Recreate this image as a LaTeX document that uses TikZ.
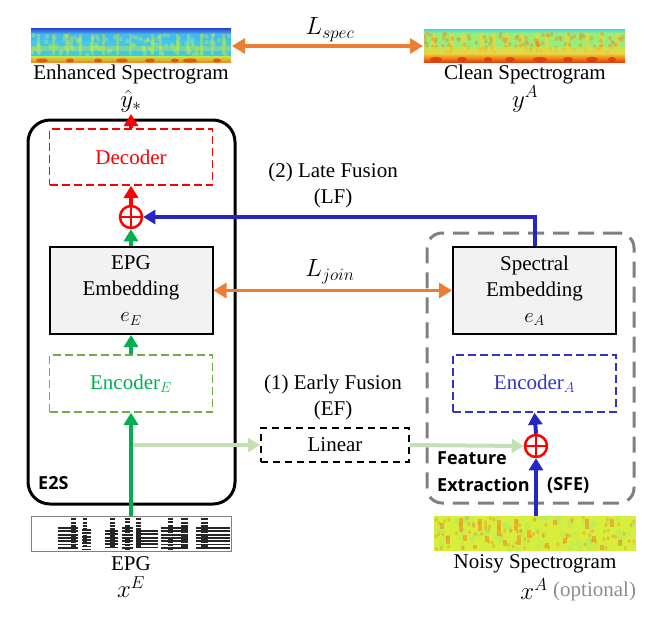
\documentclass[tikz,border=0pt]{standalone}
\usepackage{fontspec}
\setmainfont{Liberation Serif}
\newfontfamily\bsans{Open Sans}
\usetikzlibrary{arrows.meta}
\definecolor{cor}{HTML}{ED7D31}
\definecolor{cbl}{HTML}{2626C4}
\definecolor{cenca}{HTML}{3333CC}
\definecolor{cgr}{HTML}{00B050}
\definecolor{cenceg}{HTML}{70AD47}
\definecolor{clg}{HTML}{C5E0B4}
\definecolor{cgray}{HTML}{7F7F7F}
\definecolor{cemb}{HTML}{F2F2F2}
\definecolor{sdb}{HTML}{2A3CC8}
\definecolor{slb}{HTML}{44BAF2}
\definecolor{scy}{HTML}{40D4E4}
\definecolor{syg}{HTML}{BEEA50}
\definecolor{sor}{HTML}{F08C1E}
\definecolor{srd}{HTML}{E8400C}
\definecolor{sgr}{HTML}{9AEC78}
\definecolor{syl}{HTML}{F4D634}
\definecolor{sny}{HTML}{D8EE3C}
\tikzset{
  txt/.style={font=\fontsize{21}{24}\selectfont, inner sep=0pt},
  mth/.style={font=\fontsize{23}{24}\selectfont, inner sep=0pt},
  bold/.style={font=\bsans\bfseries\fontsize{18}{20}\selectfont, inner sep=0pt},
  emb/.style={draw=black, line width=2pt, fill=cemb, minimum width=163pt, minimum height=87pt, align=center, font=\fontsize{21}{26}\selectfont, inner sep=0pt},
  dbox/.style={line width=1.5pt, dash pattern=on 8pt off 4pt, minimum width=163pt, minimum height=56pt, font=\fontsize{21}{24}\selectfont, inner sep=0pt},
  plus/.style={circle, draw=red, line width=2.5pt, minimum size=22pt, inner sep=0pt,
    path picture={\draw[red, line width=2.5pt] (path picture bounding box.north) -- (path picture bounding box.south) (path picture bounding box.west) -- (path picture bounding box.east);}},
  tip/.style={-{Triangle[length=12pt,width=14pt]}},
  oarr/.style={draw=cor, line width=3.5pt, {Triangle[length=13pt,width=15pt]}-{Triangle[length=13pt,width=15pt]}},
  barr/.style={draw=cbl, line width=4pt, tip},
  garr/.style={draw=cgr, line width=4pt, tip},
  rarr/.style={draw=red, line width=4pt, tip},
  lgarr/.style={draw=clg, line width=4pt, tip},
}
\begin{document}
\begin{tikzpicture}[x=1pt,y=-1pt]
\useasboundingbox (0,0) rectangle (663,619);
\pgfmathsetseed{11}
% ---------- Enhanced spectrogram ----------
\begin{scope}
\clip (31,28) rectangle (231,62);
\fill[slb] (31,28) rectangle (231,62);
\shade[top color=sdb, bottom color=slb] (31,28) rectangle (231,34);
\fill[scy, opacity=.5] (31,40) rectangle (231,56);
\foreach \x in {37,52,66,79,91,102,116,129,151,159,176,187,200,211,222}
  \fill[syg, opacity=.45] (\x,34) rectangle ++(2.5,21);
\foreach \i in {1,...,110}{
  \pgfmathsetmacro\xx{31+200*rnd}\pgfmathsetmacro\yy{35+20*rnd}
  \fill[syg, opacity=.4] (\xx,\yy) ellipse (2pt and 2.5pt);}
\fill[syg, opacity=.45] (31,46) rectangle (231,51);
\shade[top color=syg, bottom color=sor] (31,56) rectangle (231,62);
\foreach \x/\w in {42/6,70/4,98/4,122/6,150/5,175/4,190/7,217/4}
  \fill[srd, opacity=.8] (\x,60.5) ellipse ({\w pt} and 2pt);
\end{scope}
% ---------- Clean spectrogram ----------
\begin{scope}
\clip (424,29) rectangle (625,62);
\fill[sgr] (424,29) rectangle (625,62);
\shade[top color=scy, bottom color=sgr] (424,29) rectangle (625,33);
\foreach \x in {431,450,462,480,492,505,520,535,545,565,585,600,615}
  \fill[syl, opacity=.6] (\x,33) rectangle ++(4,22);
\foreach \i in {1,...,120}{
  \pgfmathsetmacro\xx{424+201*rnd}\pgfmathsetmacro\yy{34+20*rnd}
  \fill[sor, opacity=.45] (\xx,\yy) ellipse (1.8pt and 2.2pt);}
\fill[syl, opacity=.6] (424,47) rectangle (625,54);
\shade[top color=syl, bottom color=srd] (424,53) rectangle (625,62);
\foreach \x/\w in {436/6,462/5,488/4,510/5,540/7,568/5,592/6,612/4}
  \fill[srd!90!black, opacity=.8] (\x,59.5) ellipse ({\w pt} and 2.5pt);
\end{scope}
% ---------- EPG image ----------
\fill[white] (31,516) rectangle (231,551);
\begin{scope}
\clip (31,516) rectangle (231,549);
\foreach \xa/\xb/\yt in {71/76/516, 83/87/516, 110/115/516, 125/130/519, 136/141/516, 168/173/519, 181/188/516, 201/208/516,
   58/78/528, 82/91/530, 105/118/531, 122/133/528, 136/158/531, 161/188/528, 196/230/528}
{
  \foreach \y in {0,3.3,...,33}
  {
    \draw[black!85, line width=1.9pt] (\xa,\yt+\y) -- (\xb,\yt+\y);
  }
}
\end{scope}
\draw[gray, line width=0.8pt] (31,516) rectangle (231,551);
% ---------- Noisy spectrogram ----------
\begin{scope}
\clip (434,516) rectangle (636,551);
\fill[sny] (434,516) rectangle (636,551);
\foreach \i in {1,...,60}{
  \pgfmathsetmacro\xx{434+202*rnd}\pgfmathsetmacro\yy{517+33*rnd}
  \fill[sgr, opacity=.35] (\xx,\yy) ellipse (3pt and 3pt);}
\foreach \x/\y/\h in {440/523/6,446/536/8,459/518/14,463/535/6,478/519/12,485/536/6,497/520/16,503/540/6,514/519/12,517/535/10,527/530/8,553/520/5,563/538/5,585/519/10,592/536/6,610/519/8,618/540/6,473/545/4,545/543/5,600/545/5}
  \fill[sor, opacity=.6] (\x,\y) rectangle ++(3.5,\h);
\foreach \i in {1,...,90}{
  \pgfmathsetmacro\xx{434+202*rnd}\pgfmathsetmacro\yy{517+33*rnd}
  \fill[sor, opacity=.4] (\xx,\yy) ellipse (1.5pt and 2pt);}
\end{scope}
% ---------- labels top ----------
\node[txt] (enhl) at (131,74) {Enhanced Spectrogram};
\node[mth] (yhat) at (131,101) {$\hat{y}_*$};
\node[txt] (clnl) at (525,74) {Clean Spectrogram};
\node[mth] (ya) at (525,99) {$y^A$};
\coordinate (enhR) at (232,46);
\coordinate (clnL) at (423,46);
\draw[oarr] (enhR) -- (clnL);
\node[mth] (lspec) at (330,30) {$L_{spec}$};
% ---------- E2S box ----------
\node[draw=black, line width=3pt, rounded corners=22pt, minimum width=207pt, minimum height=384pt] (e2s) at (131.5,312) {};
\node[bold, anchor=west] (e2slbl) at (38,483) {E2S};
% ---------- SFE box ----------
\node[draw=cgray, line width=3pt, dash pattern=on 16pt off 9pt, rounded corners=15pt, minimum width=207pt, minimum height=270pt] (sfe) at (530.5,368) {};
\node[bold, anchor=west] (feat) at (437,458) {Feature};
\node[bold, anchor=west] (extr) at (437,485) {Extraction};
\node[bold, anchor=west] (sfel) at (547,485) {(SFE)};
% ---------- blocks ----------
\node[dbox, draw=red, text=red] (dec) at (131,157) {Decoder};
\node[plus] (p1) at (131,217) {};
\node[emb] (ee) at (131,290.5) {EPG\\Embedding\\$e_E$};
\node[dbox, draw=cenceg, text=cgr, minimum height=57pt] (ence) at (131,383.5) {Encoder$_E$};
\node[emb] (se) at (534.5,290.5) {Spectral\\Embedding\\$e_A$};
\node[dbox, draw=cenca, text=cenca, minimum height=57pt] (enca) at (534.5,383.5) {Encoder$_A$};
\node[plus] (p2) at (536,446) {};
\node[draw=black, line width=2pt, dash pattern=on 7pt off 5pt, minimum width=148pt, minimum height=34pt, font=\fontsize{21}{24}\selectfont, inner sep=0pt] (lin) at (335,445) {Linear};
% ---------- texts middle ----------
\node[txt, align=center, font=\fontsize{21}{26}\selectfont] (lf) at (333,185) {(2) Late Fusion\\(LF)};
\node[mth] (ljoin) at (330,272) {$L_{join}$};
\node[txt, align=center, font=\fontsize{21}{26}\selectfont] (ef) at (333,397) {(1) Early Fusion\\(EF)};
% ---------- bottom labels ----------
\node[txt] (epgl) at (131,564) {EPG};
\node[mth] (xe) at (131,587) {$x^E$};
\node[txt] (noil) at (535,564) {Noisy Spectrogram};
\node[mth] (xa) at (534,589) {$x^A$};
\node[txt, anchor=west, text=gray!90] (opt) at (553,591) {(optional)};
% ---------- connectors ----------
\coordinate (yhatB) at (131,114);
\coordinate (epgT) at (131,516);
\coordinate (noiT) at (536,516);
\coordinate (brk) at (131,445);
\draw[rarr] (dec.north) -- (yhatB);
\draw[rarr] (p1.north) -- (dec.south);
\draw[garr] (ee.north) -- (p1.south);
\draw[garr] (ence.north) -- (ee.south);
\draw[lgarr] (brk) -- (lin.west);
\draw[lgarr] (lin.east) -- (p2.west);
\draw[garr] (epgT) -- (ence.south);
\draw[oarr] (ee.east) -- (se.west);
\draw[barr] (se.north) -- (se.north |- p1) -- (p1.east);
\draw[barr] (noiT) -- (p2.south);
\draw[barr] (p2.north) -- (enca.south);
\end{tikzpicture}
\end{document}
